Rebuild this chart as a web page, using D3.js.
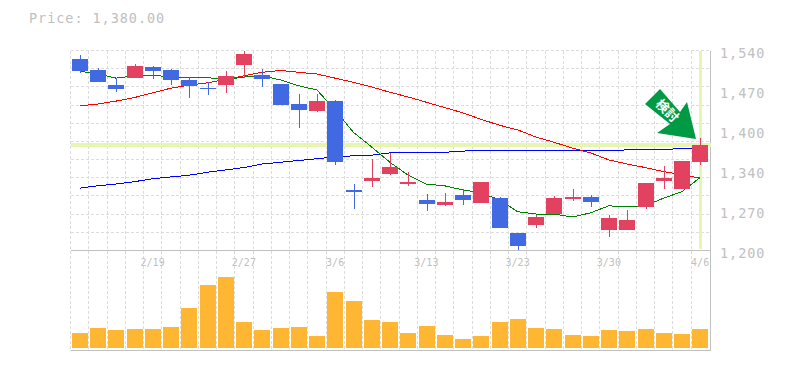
<!doctype html>
<html lang="en">
<head>
  <meta charset="utf-8">
  <title>Price chart</title>
  <script src="https://cdn.jsdelivr.net/npm/d3@7"></script>
  <style>
    html, body { margin: 0; padding: 0; background: #fff; }
    svg { display: block; }
    text { font-family: "DejaVu Sans Mono", monospace; fill: #c0c0c0; }
  </style>
</head>
<body>
  <svg id="chart"></svg>
  <script>
    'use strict';

    var WIDTH = 785;
    var HEIGHT = 370;

    // values
    var opens  = [1526,1507,1481,1493,1512,1507,1490,1476,1481,1515,1498,1483,1449,1437,1454,1303,1318,1330,1313,1286,1277,1294,1281,1289,1230,1243,1262,1288,1291,1235,1235,1274,1318,1305,1350];
    var highs  = [1532,1510,1493,1517,1514,1509,1495,1486,1505,1539,1509,1483,1466,1466,1456,1313,1356,1366,1333,1296,1298,1305,1317,1291,1230,1260,1293,1305,1294,1260,1269,1315,1344,1352,1391];
    var lows   = [1502,1486,1469,1493,1492,1481,1459,1464,1468,1493,1478,1447,1408,1435,1345,1271,1308,1328,1310,1267,1276,1277,1281,1238,1201,1238,1262,1284,1274,1223,1235,1271,1305,1305,1345];
    var closes = [1505,1486,1475,1514,1505,1490,1480,1475,1497,1534,1492,1447,1439,1454,1350,1299,1323,1342,1317,1279,1282,1286,1317,1238,1208,1257,1289,1291,1282,1255,1252,1315,1323,1352,1380];
    var maShort = [1505,1500,1493,1497,1498,1495,1494,1494,1490,1495,1497,1490,1480,1473,1439,1401,1376,1350,1328,1313,1310,1303,1298,1286,1266,1262,1262,1257,1264,1276,1274,1276,1289,1300,1324];
    var maMid   = [1446,1449,1454,1460,1468,1476,1481,1485,1491,1497,1503,1506,1503,1500,1493,1486,1478,1469,1461,1452,1443,1434,1423,1413,1405,1393,1384,1374,1366,1354,1347,1341,1334,1329,1323];
    var maLong  = [1306,1310,1313,1317,1322,1325,1328,1333,1337,1341,1347,1350,1353,1356,1359,1361,1362,1366,1366,1367,1367,1369,1370,1370,1370,1370,1370,1370,1370,1370,1371,1372,1372,1373,1374];
    var volumes = [15,20,18,19,19,21,40,63,71,26,18,20,21,12,56,47,28,26,15,22,13,9,12,26,29,20,19,13,12,18,17,19,15,14,19];
    var dateIndex  = [4,9,14,19,24,29,34];
    var dateLabels = ["2/19","2/27","3/6","3/13","3/23","3/30","4/6"];
    var priceTicks = [1200,1268,1336,1404,1472,1540];
    var priceLabels = ["1,200","1,270","1,340","1,400","1,470","1,540"];
    var lastPrice = 1380;

    var svg = d3.select("#chart").attr("width", WIDTH).attr("height", HEIGHT);

    var LEFT = 70.5, RIGHT = 709.25, EDGE = 710.5, TOP = 50.5, MID = 250.5, BOTTOM = 350.5;

    var idx = d3.range(opens.length);
    var x = d3.scaleBand().domain(idx).range([LEFT, RIGHT]);
    var y = d3.scaleLinear().domain([1200, 1540]).range([MID, TOP]);
    var yVol = d3.scaleLinear().domain([0, 100]).range([348, 248]);

    function cx(i) { return x(i) + x.bandwidth() / 2; }
    function barX(i) { return Math.round(x(i) + 1.49); }

    // dashed grid
    var grid = svg.append("g").attr("stroke", "#dcdcdc").attr("stroke-dasharray", "3,2").attr("shape-rendering", "crispEdges");
    idx.forEach(function(i) {
      grid.append("line").attr("x1", x(i)).attr("x2", x(i)).attr("y1", TOP).attr("y2", BOTTOM);
    });
    d3.range(1, 12).forEach(function(k) {
      var v = 1200 + k * 340 / 11;
      grid.append("line").attr("x1", LEFT).attr("x2", EDGE).attr("y1", y(v)).attr("y2", y(v));
    });

    // frame
    var frame = svg.append("g").attr("stroke", "#c0c0c0").attr("shape-rendering", "crispEdges");
    frame.append("line").attr("x1", LEFT).attr("x2", EDGE).attr("y1", MID).attr("y2", MID);
    frame.append("line").attr("x1", LEFT).attr("x2", EDGE).attr("y1", BOTTOM).attr("y2", BOTTOM);
    frame.append("line").attr("x1", EDGE).attr("x2", EDGE).attr("y1", TOP).attr("y2", BOTTOM);

    // current price / last day highlight
    var marks = svg.append("g").attr("shape-rendering", "crispEdges").attr("fill", "#e6f5b0");
    marks.append("rect").attr("x", LEFT).attr("width", EDGE - LEFT)
      .attr("y", y(lastPrice) - 2).attr("height", 4);
    marks.append("rect").attr("x", 699).attr("width", 3)
      .attr("y", TOP).attr("height", 198);

    // moving averages
    var line = d3.line().x(function(d, i) { return cx(i); }).y(function(d) { return y(d); });
    [[maLong, "#0000ff"], [maMid, "#ff0000"], [maShort, "#008000"]].forEach(function(s) {
      svg.append("path").attr("d", line(s[0])).attr("fill", "none").attr("stroke", s[1])
        .attr("stroke-width", 1).attr("shape-rendering", "crispEdges");
    });

    // candles
    var upColor = "#e34160", downColor = "#4169e1";
    var candles = svg.append("g").attr("shape-rendering", "crispEdges");
    idx.forEach(function(i) {
      var c = closes[i] >= opens[i] ? upColor : downColor;
      candles.append("rect").attr("x", barX(i) + 8).attr("width", 1)
        .attr("y", y(highs[i])).attr("height", y(lows[i]) - y(highs[i])).attr("fill", c);
      var top = Math.max(opens[i], closes[i]), bot = Math.min(opens[i], closes[i]);
      candles.append("rect").attr("x", barX(i)).attr("width", 16)
        .attr("y", y(top)).attr("height", Math.max(y(bot) - y(top), 1)).attr("fill", c);
    });

    // volume
    svg.append("g").attr("shape-rendering", "crispEdges").selectAll("rect").data(volumes).join("rect")
      .attr("x", function(d, i) { return barX(i); })
      .attr("width", 16)
      .attr("y", function(d) { return yVol(d); })
      .attr("height", function(d) { return yVol(0) - yVol(d); })
      .attr("fill", "#ffb733");

    // axis labels
    priceTicks.forEach(function(p, i) {
      svg.append("text").attr("x", 720).attr("y", y(p) + 7).attr("font-size", 13.5)
        .attr("letter-spacing", 0.95).text(priceLabels[i]);
    });
    dateIndex.forEach(function(d, i) {
      svg.append("text").attr("x", cx(d)).attr("y", 266).attr("text-anchor", "middle")
        .attr("font-size", 10).text(dateLabels[i]);
    });
    svg.append("text").attr("x", 29).attr("y", 23).attr("font-size", 13.5)
      .attr("letter-spacing", 0.95).text("Price: 1,380.00");

    // arrow badge
    svg.append("path").attr("d", "M660,89L645,104L670,124L657,133L696,139L687,102L680,112Z").attr("fill", "#009944");
    svg.append("text").attr("transform", "translate(664,114) rotate(45)").attr("text-anchor", "middle")
      .attr("font-size", 13).attr("font-weight", "bold")
      .style("font-family", '"Noto Sans CJK JP"').style("fill", "#fff").text("検討");
  </script>
</body>
</html>
